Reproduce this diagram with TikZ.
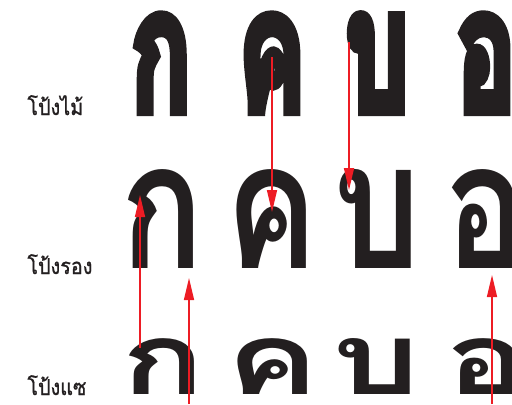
\documentclass[tikz,border=0pt]{standalone}
\usepackage{fontspec}
\usepackage{graphicx}
\usetikzlibrary{arrows.meta}
\newfontfamily\thaiheavy[Script=Thai,FakeBold=6]{Loma}
\newfontfamily\thaimid[Script=Thai]{Loma}
\newfontfamily\thailabel[Script=Thai,FakeBold=1]{Loma}
\definecolor{glyphink}{RGB}{35,31,32}
\definecolor{markred}{RGB}{237,28,36}
\newcommand{\maiglyph}[1]{\scalebox{0.84}[1.42]{\fontsize{60}{60}\thaiheavy\bfseries #1}}
\newcommand{\ronglyph}[1]{\scalebox{1.15}[1.47]{\fontsize{60}{60}\thaimid\bfseries #1}}
\newcommand{\saeglyph}[1]{\scalebox{1.15}[0.83]{\fontsize{60}{60}\thaimid\bfseries #1}}
\tikzset{
  glyph/.style={anchor=base, inner sep=0pt, text=glyphink},
  rowname/.style={anchor=base west, inner sep=0pt, text=glyphink,
    font=\fontsize{11}{11}\thailabel},
  arr/.style={-{Triangle[length=11pt,width=5pt]}, draw=markred, line width=0.75pt}
}
\begin{document}
\begin{tikzpicture}[x=0.5pt,y=-0.5pt]
  \useasboundingbox (0,0) rectangle (512,404);
  \clip (0,0) rectangle (512,404);
  % row labels
  \node[rowname] (lmai) at (27,115) {\scalebox{0.9}[1]{โป้งไม้}};
  \node[rowname] (lrong) at (27,274) {\scalebox{0.9}[1]{โป้งรอง}};
  \node[rowname] (lsae) at (27,395) {\scalebox{0.9}[1]{โป้งแซ}};
  % heavy row
  \node[glyph] (mai-ko) at (161,111) {\maiglyph{ก}};
  \node[glyph] (mai-kho) at (272,111) {\maiglyph{ค}};
  \node[glyph] (mai-bo) at (377,111) {\maiglyph{บ}};
  \node[glyph] (mai-o) at (486,111) {\maiglyph{อ}};
  % medium row
  \node[glyph] (rong-ko) at (162,268) {\ronglyph{ก}};
  \node[glyph] (rong-kho) at (272,268) {\ronglyph{ค}};
  \node[glyph] (rong-bo) at (377,268) {\ronglyph{บ}};
  \node[glyph] (rong-o) at (486,268) {\ronglyph{อ}};
  % light row
  \node[glyph] (sae-ko) at (163,394) {\saeglyph{ก}};
  \node[glyph] (sae-kho) at (273,394) {\saeglyph{ค}};
  \node[glyph] (sae-bo) at (376,394) {\saeglyph{บ}};
  \node[glyph] (sae-o) at (487,394) {\saeglyph{อ}};
  % arrow ends
  \coordinate (kho-top) at (272,57);
  \coordinate (kho-mid) at (272,212);
  \coordinate (bo-top) at (349,42);
  \coordinate (bo-mid) at (349,190);
  \coordinate (ko-low) at (140,348);
  \coordinate (ko-head) at (140,195);
  \coordinate (ko-foot-low) at (189,404);
  \coordinate (ko-foot) at (189,278);
  \coordinate (o-low) at (492,404);
  \coordinate (o-foot) at (492,275);
  \draw[arr] (kho-top) -- (kho-mid);
  \draw[arr] (bo-top) -- (bo-mid);
  \draw[arr] (ko-low) -- (ko-head);
  \draw[arr] (ko-foot-low) -- (ko-foot);
  \draw[arr] (o-low) -- (o-foot);
\end{tikzpicture}
\end{document}
